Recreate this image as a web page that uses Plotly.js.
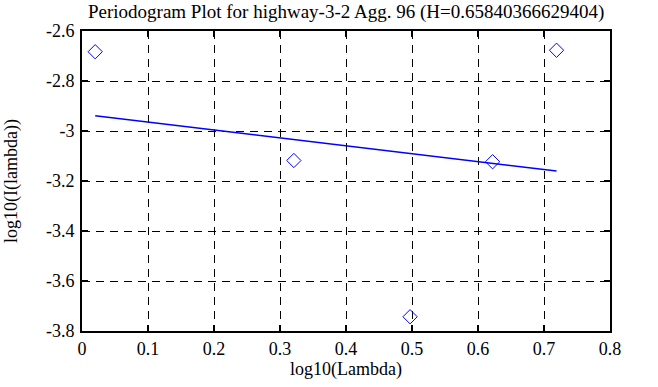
<!DOCTYPE html>
<html>
<head>
<meta charset="utf-8">
<script src="https://cdn.plot.ly/plotly-3.0.1.min.js"></script>
<style>html,body{margin:0;padding:0;background:#fff;}#chart{width:658px;height:387px;}</style>
</head>
<body>
<div id="chart"></div>
<script>
// Periodogram points
const logLambda = [0.0200, 0.3210, 0.4971, 0.6221, 0.7190];
const logI = [-2.683, -3.118, -3.743, -3.123, -2.677];
// Fitted regression line endpoints
const fitX = [0.0200, 0.7190];
const fitY = [-2.939, -3.160];
// Axis ticks
const xTickVals = [0, 0.1, 0.2, 0.3, 0.4, 0.5, 0.6, 0.7, 0.8];
const xTickText = ["0", "0.1", "0.2", "0.3", "0.4", "0.5", "0.6", "0.7", "0.8"];
const yTickVals = [-3.8, -3.6, -3.4, -3.2, -3.0, -2.8, -2.6];
const yTickText = ["-3.8", "-3.6", "-3.4", "-3.2", "-3", "-2.8", "-2.6"];

const fam = "Liberation Serif, Times New Roman, serif";
const font = {family: fam, color: "#000", size: 18};

const traces = [
  {x: logLambda, y: logI, mode: "markers", type: "scatter",
   marker: {symbol: "diamond-open", size: 11, color: "#0000ff", line: {width: 1, color: "#0000ff"}}},
  {x: fitX, y: fitY, mode: "lines", type: "scatter", line: {color: "#0000ff", width: 1.5}}
];

const axisCommon = {
  showline: true, linecolor: "#000", linewidth: 2, mirror: "allticks",
  ticks: "inside", ticklen: 6, tickwidth: 1.5, tickcolor: "#000",
  showgrid: true, gridcolor: "#000", gridwidth: 1, griddash: "8px,6px",
  zeroline: false, tickfont: font, tickmode: "array"
};

const layout = {
  width: 658, height: 387,
  margin: {l: 82, r: 48, t: 31, b: 56},
  paper_bgcolor: "#fff", plot_bgcolor: "#fff",
  showlegend: false,
  font: font,
  title: {text: "Periodogram Plot for highway-3-2 Agg. 96 (H=0.65840366629404)",
          font: {family: fam, size: 19, color: "#000"}, x: 0.526, xanchor: "center",
          yref: "container", y: 0.971, yanchor: "middle"},
  xaxis: Object.assign({}, axisCommon, {range: [0, 0.8], tickvals: xTickVals, ticktext: xTickText,
    title: {text: "log10(Lambda)", font: font, standoff: 0}}),
  yaxis: Object.assign({}, axisCommon, {range: [-3.8, -2.6], tickvals: yTickVals, ticktext: yTickText,
    ticklabelstandoff: 2,
    title: {text: "log10(I(lambda))", font: font, standoff: 24}})
};

Plotly.newPlot("chart", traces, layout, {displayModeBar: false, staticPlot: true});
</script>
</body>
</html>
